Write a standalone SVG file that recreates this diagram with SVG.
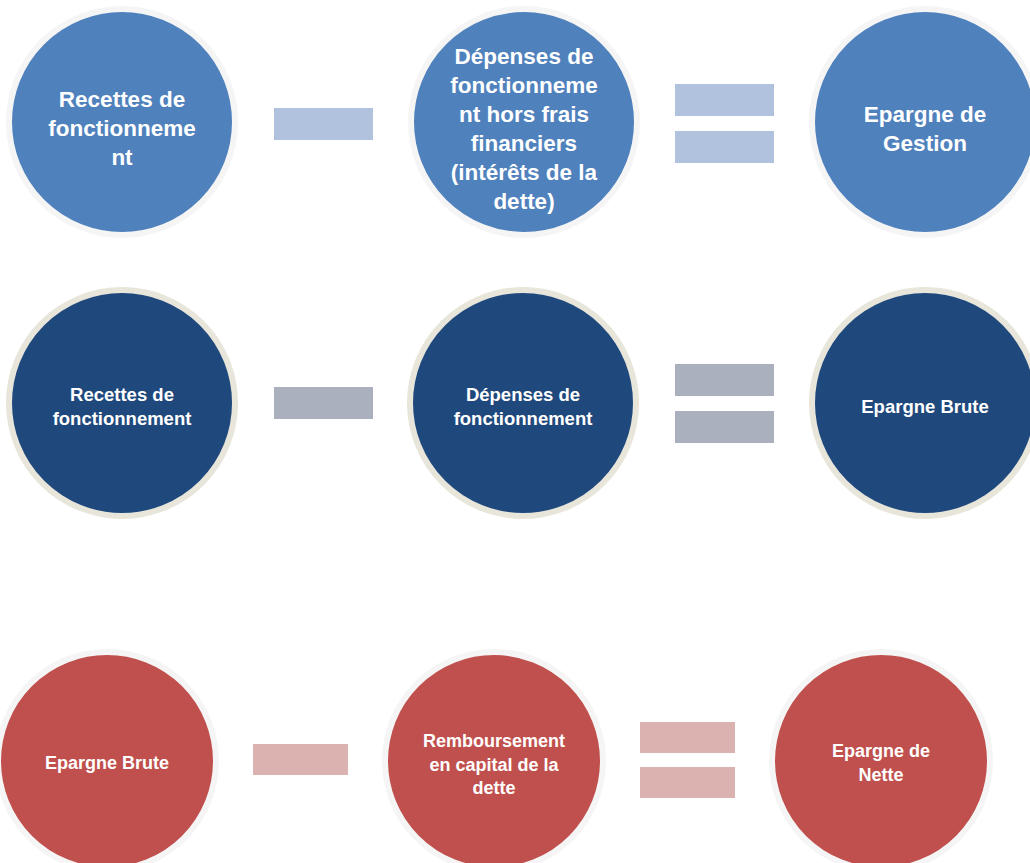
<svg xmlns="http://www.w3.org/2000/svg" width="1030" height="863" viewBox="0 0 1030 863">
<style>
.c1{fill:#4f81bd;stroke:#f5f5f5;stroke-width:6}
.c2{fill:#1f497d;stroke:#e8e5da;stroke-width:6}
.c3{fill:#c0504d;stroke:#f5f5f5;stroke-width:6}
.r1{fill:#b1c2de}
.r2{fill:#aab0be}
.r3{fill:#dcb2b1}
text{font-family:"Liberation Sans",Arial,sans-serif;font-weight:bold;fill:#fff;text-anchor:middle}
.t1{font-size:22.5px}
.t2{font-size:18.5px}
.t3{font-size:18px}
</style>
<rect width="1030" height="863" fill="#fff"/>
<g id="connectors">
<rect class="r1" x="274" y="108" width="99" height="32"/>
<rect class="r1" x="675" y="84" width="99" height="32"/>
<rect class="r1" x="675" y="131" width="99" height="32"/>
<rect class="r2" x="274" y="387" width="99" height="32"/>
<rect class="r2" x="675" y="364" width="99" height="32"/>
<rect class="r2" x="675" y="411" width="99" height="32"/>
<rect class="r3" x="253" y="744" width="95" height="31"/>
<rect class="r3" x="640" y="722" width="95" height="31"/>
<rect class="r3" x="640" y="767" width="95" height="31"/>
</g>
<g id="n1"><circle class="c1" cx="122" cy="122" r="113"/>
<text class="t1" x="122"><tspan x="122" y="107">Recettes de</tspan><tspan x="122" y="136">fonctionneme</tspan><tspan x="122" y="165">nt</tspan></text></g>
<g id="n2"><circle class="c1" cx="524" cy="122" r="113"/>
<text class="t1"><tspan x="524" y="64">Dépenses de</tspan><tspan x="524" y="93">fonctionneme</tspan><tspan x="524" y="122">nt hors frais</tspan><tspan x="524" y="151">financiers</tspan><tspan x="524" y="180">(intérêts de la</tspan><tspan x="524" y="209">dette)</tspan></text></g>
<g id="n3"><circle class="c1" cx="925" cy="122" r="113"/>
<text class="t1"><tspan x="925" y="122">Epargne de</tspan><tspan x="925" y="151">Gestion</tspan></text></g>
<g id="n4"><circle class="c2" cx="122" cy="403" r="113"/>
<text class="t2"><tspan x="122" y="401">Recettes de</tspan><tspan x="122" y="425">fonctionnement</tspan></text></g>
<g id="n5"><circle class="c2" cx="523" cy="403" r="113"/>
<text class="t2"><tspan x="523" y="401">Dépenses de</tspan><tspan x="523" y="425">fonctionnement</tspan></text></g>
<g id="n6"><circle class="c2" cx="925" cy="403" r="113"/>
<text class="t2" x="925" y="413">Epargne Brute</text></g>
<g id="n7"><circle class="c3" cx="107" cy="761" r="109"/>
<text class="t3" x="107" y="769">Epargne Brute</text></g>
<g id="n8"><circle class="c3" cx="494" cy="761" r="109"/>
<text class="t3"><tspan x="494" y="747">Remboursement</tspan><tspan x="494" y="771">en capital de la</tspan><tspan x="494" y="794">dette</tspan></text></g>
<g id="n9"><circle class="c3" cx="881" cy="761" r="109"/>
<text class="t3"><tspan x="881" y="757">Epargne de</tspan><tspan x="881" y="781">Nette</tspan></text></g>
</svg>
